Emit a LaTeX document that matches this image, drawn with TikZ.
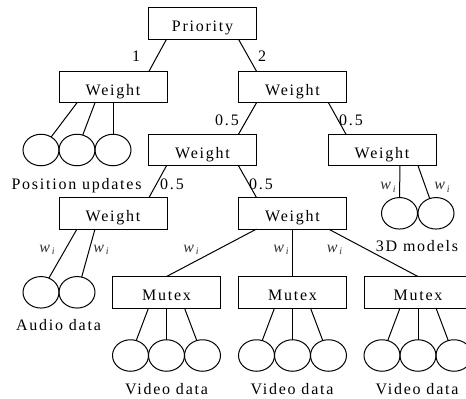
\documentclass[tikz,border=0pt]{standalone}
\usepackage{fontspec}
\setmainfont[LetterSpace=11]{Liberation Serif}
\usetikzlibrary{shapes.geometric}
\tikzset{
  box/.style={draw,line width=1pt,minimum width=108pt,minimum height=31.5pt,inner sep=0pt,outer sep=0pt,text height=16pt,text depth=0pt,font=\fontsize{16}{18}\selectfont},
  leaf/.style={draw,ellipse,line width=1pt,minimum width=36pt,minimum height=31.5pt,inner sep=0pt,outer sep=0pt},
  lab/.style={inner sep=0pt,anchor=base,font=\fontsize{16}{18}\selectfont},
  wlab/.style={inner sep=0pt,anchor=base,text=black!80,font=\fontsize{16}{18}\selectfont},
  conn/.style={line width=1pt}
}
\newcommand{\wi}{{\itshape w\raisebox{-0.35ex}{\fontsize{10}{11}\selectfont\,i}}}
\begin{document}
\begin{tikzpicture}[x=1pt,y=-1pt]
\useasboundingbox (0,0) rectangle (466,399);
\clip (0,0) rectangle (466,399);
% boxes
\node[box] (p) at (202.5,23.5) {Priority};
\node[box] (w1) at (113,87) {Weight};
\node[box] (w2) at (292.5,87) {Weight};
\node[box] (w3) at (202.5,150) {Weight};
\node[box] (w4) at (382,150) {Weight};
\node[box] (w5) at (113,213.3) {Weight};
\node[box] (w6) at (292.5,213.3) {Weight};
\node[box] (m1) at (166.5,292.3) {Mutex};
\node[box] (m2) at (292.5,292.3) {Mutex};
\node[box] (m3) at (418,292.3) {Mutex};
% leaves
\node[leaf] (a1) at (41,150) {};
\node[leaf] (a2) at (77,150) {};
\node[leaf] (a3) at (113,150) {};
\node[leaf] (b1) at (41,292.3) {};
\node[leaf] (b2) at (77,292.3) {};
\node[leaf] (c1) at (399.5,213.3) {};
\node[leaf] (c2) at (436,213.3) {};
\node[leaf] (d1) at (130.5,355.5) {};
\node[leaf] (d2) at (166.5,355.5) {};
\node[leaf] (d3) at (202.5,355.5) {};
\node[leaf] (e1) at (256.5,355.5) {};
\node[leaf] (e2) at (292.5,355.5) {};
\node[leaf] (e3) at (328.5,355.5) {};
\node[leaf] (f1) at (382,355.5) {};
\node[leaf] (f2) at (418,355.5) {};
\node[leaf] (f3) at (454,355.5) {};
% box connectors
\draw[conn] ([xshift=18pt]p.south west) -- ([xshift=90pt]w1.north west);
\draw[conn] ([xshift=90pt]p.south west) -- ([xshift=18pt]w2.north west);
\draw[conn] ([xshift=18pt]w2.south west) -- ([xshift=90pt]w3.north west);
\draw[conn] ([xshift=90pt]w2.south west) -- ([xshift=18pt]w4.north west);
\draw[conn] ([xshift=18pt]w3.south west) -- ([xshift=90pt]w5.north west);
\draw[conn] ([xshift=90pt]w3.south west) -- ([xshift=18pt]w6.north west);
\draw[conn] ([xshift=18pt]w6.south west) -- (m1.north);
\draw[conn] (w6.south) -- (m2.north);
\draw[conn] ([xshift=90pt]w6.south west) -- (m3.north);
% leaf connectors
\draw[conn] ([xshift=18pt]w1.south west) -- (a1.52);
\draw[conn] ([xshift=36pt]w1.south west) -- (a2.69);
\draw[conn] (w1.south) -- (a3.north);
\draw[conn] ([xshift=18pt]w5.south west) -- (b1.61);
\draw[conn] ([xshift=36pt]w5.south west) -- (b2.73);
\draw[conn] ([xshift=72pt]w4.south west) -- (c1.north);
\draw[conn] ([xshift=90pt]w4.south west) -- (c2.113);
\draw[conn] ([xshift=36pt]m1.south west) -- (d1.69);
\draw[conn] (m1.south) -- (d2.north);
\draw[conn] ([xshift=72pt]m1.south west) -- (d3.111);
\draw[conn] ([xshift=36pt]m2.south west) -- (e1.69);
\draw[conn] (m2.south) -- (e2.north);
\draw[conn] ([xshift=72pt]m2.south west) -- (e3.111);
\draw[conn] ([xshift=36pt]m3.south west) -- (f1.69);
\draw[conn] (m3.south) -- (f2.north);
\draw[conn] ([xshift=72pt]m3.south west) -- (f3.111);
% edge labels
\node[lab] (l1) at (136,61.7) {1};
\node[lab] (l2) at (262,61.7) {2};
\node[lab] (l3) at (227,125) {0.5};
\node[lab] (l4) at (351,125) {0.5};
\node[lab] (l5) at (172,189) {0.5};
\node[lab] (l6) at (261,189) {0.5};
\node[wlab] (w_a) at (388,189.5) {\wi};
\node[wlab] (w_b) at (442,189.5) {\wi};
\node[wlab] (w_c) at (47,252) {\wi};
\node[wlab] (w_d) at (101,252) {\wi};
\node[wlab] (w_e) at (191,252) {\wi};
\node[wlab] (w_f) at (281,252) {\wi};
\node[wlab] (w_g) at (334.5,252) {\wi};
% captions
\node[lab] (t1) at (76.5,189) {Position updates};
\node[lab] (t2) at (58.5,330.7) {Audio data};
\node[lab] (t3) at (417,251.7) {3D models};
\node[lab] (t4) at (166.5,394) {Video data};
\node[lab] (t5) at (292,394) {Video data};
\node[lab] (t6) at (417,394) {Video data};
\end{tikzpicture}
\end{document}
